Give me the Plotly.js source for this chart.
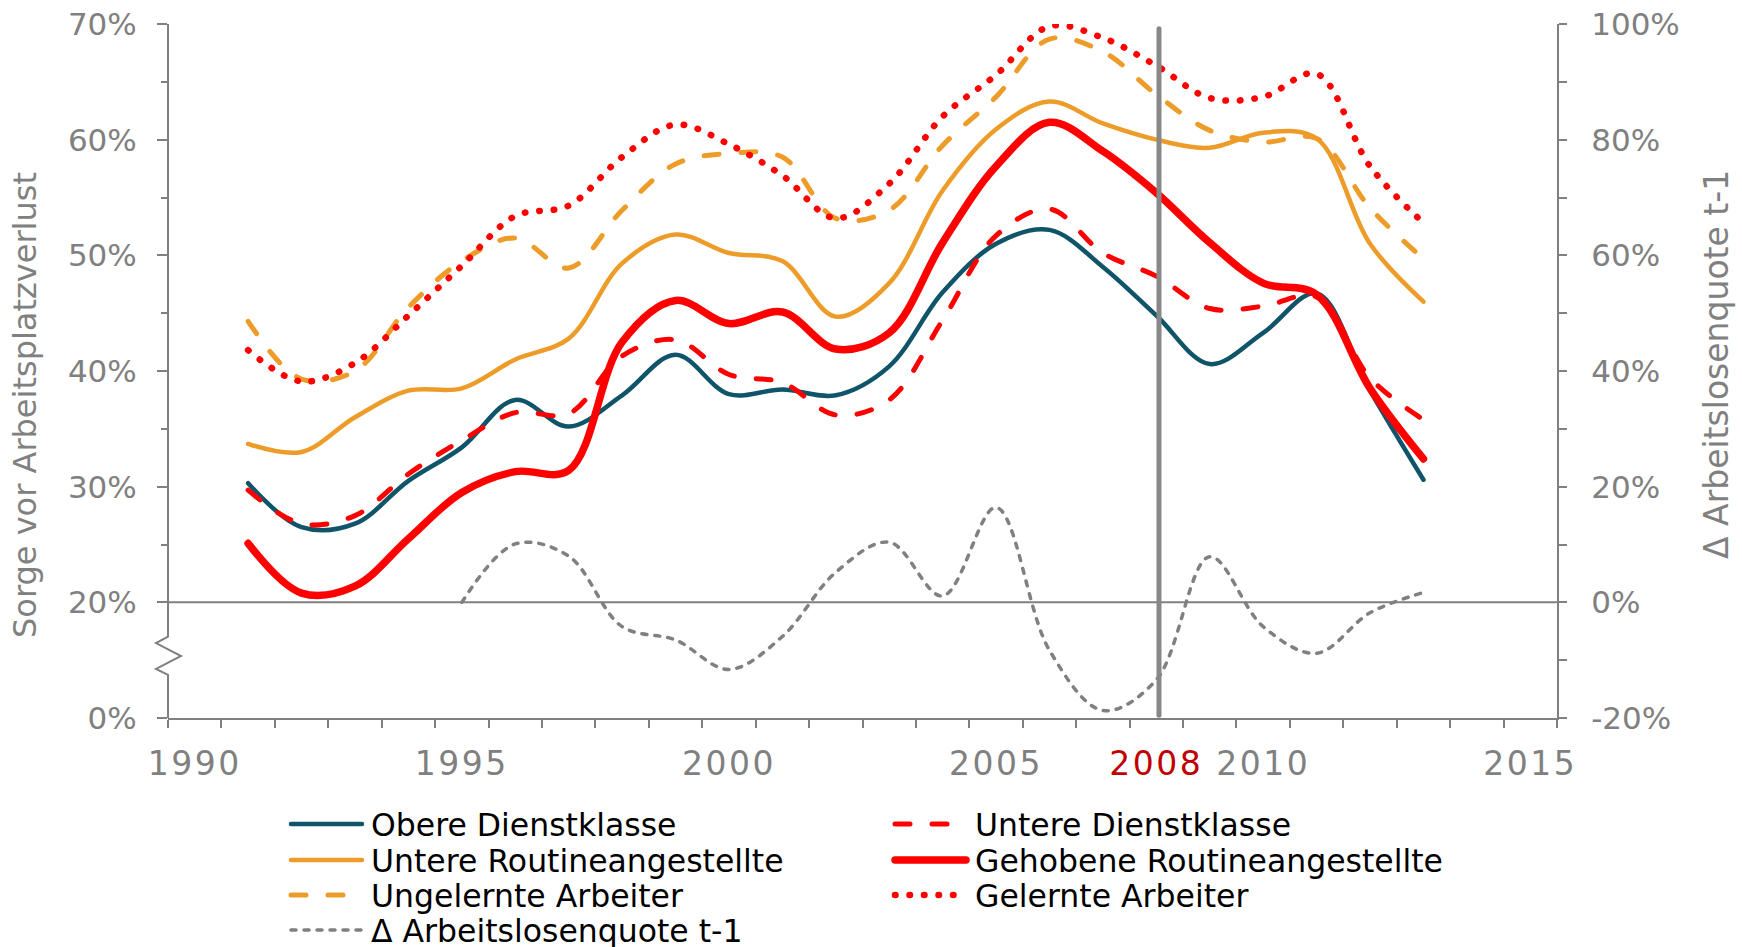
<!DOCTYPE html>
<html>
<head>
<meta charset="utf-8">
<script src="https://cdn.plot.ly/plotly-3.0.1.min.js"></script>
<style>
html,body{margin:0;padding:0;background:#fff;}
#chart{width:1742px;height:947px;}
path.js-line{stroke-linecap:round !important;stroke-linejoin:round !important;}
.shapelayer path{stroke-linecap:round;}
.xtick text{letter-spacing:2.5px;}
</style>
</head>
<body>
<div id="chart"></div>
<script>
// ---- data ----
const years = [1991,1992,1993,1994,1995,1996,1997,1998,1999,2000,2001,2002,2003,2004,2005,2006,2007,2008,2009,2010,2011,2012,2013];
const obereDienstklasse        = [30.3,26.5,26.8,30.5,33.4,37.5,35.2,37.9,41.4,38.0,38.4,37.9,40.4,46.8,51.0,52.2,49.0,44.8,40.6,43.3,46.7,38.3,30.6];
const untereDienstklasse       = [29.7,26.8,27.5,31.1,34.0,36.4,36.3,41.3,42.7,39.7,39.0,36.2,37.5,44.4,51.7,54.0,50.2,48.2,45.4,45.6,46.4,39.4,35.8];
const untereRoutineangestellte = [33.7,33.0,36.0,38.3,38.5,41.0,42.8,49.3,51.8,50.2,49.5,44.7,47.6,55.6,60.9,63.3,61.4,60.0,59.3,60.6,60.1,51.0,46.0];
const gehobeneRoutineangest    = [25.1,20.8,21.4,25.5,29.5,31.3,31.4,42.5,46.1,44.1,45.1,41.9,43.3,51.1,57.7,61.5,59.0,55.4,51.1,47.6,46.6,38.5,32.4];
const ungelernteArbeiter       = [44.3,39.3,40.0,45.5,49.5,51.5,48.9,53.9,57.9,58.8,58.5,53.2,53.9,59.5,63.7,68.7,67.6,63.9,60.8,59.8,60.1,54.1,49.7];
const gelernteArbeiter         = [41.8,39.1,40.7,44.8,49.1,53.4,54.3,58.5,61.3,59.6,56.9,53.2,56.2,62.0,65.6,69.8,68.8,66.4,63.6,63.7,65.7,57.7,52.8];
const deltaYears = [1995,1996,1997,1998,1999,2000,2001,2002,2003,2004,2005,2006,2007,2008,2009,2010,2011,2012,2013];
const deltaArbeitslosenquote = [0.0,10.1,8.0,-4.2,-6.5,-11.6,-5.9,5.2,10.4,1.1,16.4,-8.3,-18.7,-13.4,7.9,-4.2,-8.8,-1.8,1.7];

const xTickVals = [1990,1995,2000,2005,2008,2010,2015];
const xTickText = ['1990','1995','2000','2005','<span style="color:#C00000">2008</span>','2010','2015'];
const yTickVals = [10,20,30,40,50,60,70];
const yTickText = ['0%','20%','30%','40%','50%','60%','70%'];
const y2TickVals = [-20,0,20,40,60,80,100];
const y2TickText = ['-20%','0%','20%','40%','60%','80%','100%'];
const markerYear = 2008.05;

const names = ['Obere Dienstklasse','Untere Dienstklasse','Untere Routineangestellte','Gehobene Routineangestellte','Ungelernte Arbeiter','Gelernte Arbeiter','\u0394 Arbeitslosenquote t-1'];

// ---- styles ----
const TEAL = '#0F5468', ORANGE = '#ED9C2A', RED = '#FF0000', GREY = '#808080';
const styles = [
  {color:TEAL,   width:4.5, dash:'solid'},
  {color:RED,    width:5,   dash:'15px,22px'},
  {color:ORANGE, width:4.5, dash:'solid'},
  {color:RED,    width:7.5, dash:'solid'},
  {color:ORANGE, width:5,   dash:'15px,22px'},
  {color:RED,    width:6.5, dash:'0.5px,14px'},
  {color:GREY,   width:3.5, dash:'5px,8px'}
];
const seriesY = [obereDienstklasse,untereDienstklasse,untereRoutineangestellte,gehobeneRoutineangest,ungelernteArbeiter,gelernteArbeiter,deltaArbeitslosenquote];

const traces = seriesY.map((ys,i)=>({
  type:'scatter', mode:'lines', name:names[i],
  x: i===6 ? deltaYears : years, y: ys,
  yaxis: i===6 ? 'y2' : 'y',
  line:{color:styles[i].color, width:styles[i].width, dash:styles[i].dash, shape:'spline', smoothing:1},
  showlegend:false, hoverinfo:'skip'
}));

// ---- layout geometry ----
const W = 1742, H = 947;
const M = {l:168, r:185, t:24, b:229};
const PW = W - M.l - M.r, PH = H - M.t - M.b;
const px2paperX = px => (px - M.l)/PW;
const py2paperY = py => (H - M.b - py)/PH;
const FONT = 'DejaVu Sans';

const shapes = [];
const annotations = [];

// horizontal reference line (right axis 0 / left 20%)
shapes.push({type:'line', xref:'paper', yref:'y2', x0:0, x1:1, y0:0, y1:0, line:{color:GREY, width:2}, layer:'below'});

// left axis line with break zigzag (values on left axis)
const zx = [0,-12,13,-12,0].map(v=>v/PW);
const zy = [17.03,16.48,15.36,14.24,13.72];
let p = `M0,${70} L0,${zy[0]}`;
for(let k=1;k<zx.length;k++) p += ` L${zx[k]},${zy[k]}`;
p += ` L0,10`;
shapes.push({type:'path', xref:'paper', yref:'y', path:p, line:{color:GREY, width:2}, layer:'above'});

// 2008 marker line
shapes.push({type:'line', xref:'x', yref:'paper', x0:markerYear, x1:markerYear, y0:0.004, y1:0.993, line:{color:'#888888', width:5}, layer:'above'});

// legend (manual grid, two columns)
const legCols = [291, 895], legRows = [824, 860, 895, 930], legLen = 71, legTextGap = 78;
names.forEach((n,i)=>{
  const c = i%2, r = Math.floor(i/2);
  const x0 = legCols[c], y = legRows[r];
  shapes.push({type:'line', xref:'paper', yref:'paper',
    x0:px2paperX(x0), x1:px2paperX(x0+legLen), y0:py2paperY(y), y1:py2paperY(y),
    line:{color:styles[i].color, width:styles[i].width, dash:styles[i].dash}, layer:'above'});
  annotations.push({xref:'paper', yref:'paper', x:px2paperX(x0+legTextGap), y:py2paperY(y+1),
    xanchor:'left', yanchor:'middle', showarrow:false, text:n,
    font:{family:FONT, size:31.5, color:'#000000'}});
});

// axis titles
annotations.push({xref:'paper', yref:'paper', x:px2paperX(25), y:py2paperY(405), xanchor:'center', yanchor:'middle',
  textangle:-90, showarrow:false, text:'Sorge vor Arbeitsplatzverlust', font:{family:FONT, size:32, color:GREY}});
annotations.push({xref:'paper', yref:'paper', x:px2paperX(1716), y:py2paperY(364), xanchor:'center', yanchor:'middle',
  textangle:-90, showarrow:false, text:'\u0394 Arbeitslosenquote t-1', font:{family:FONT, size:33, color:GREY}});

const tickFont = {family:FONT, size:31, color:GREY};

const layout = {
  width:W, height:H, margin:M, paper_bgcolor:'#ffffff', plot_bgcolor:'rgba(0,0,0,0)',
  showlegend:false,
  xaxis:{range:[1989.5,2015.5], tickmode:'array', tickvals:xTickVals, ticktext:xTickText,
    ticks:'', ticklabelstandoff:15, tickfont:{family:FONT, size:33, color:GREY},
    minor:{tickmode:'linear', tick0:1989.5, dtick:1, ticks:'outside', ticklen:8, tickwidth:2, tickcolor:GREY, showgrid:false},
    showline:true, linecolor:GREY, linewidth:2, showgrid:false, zeroline:false, fixedrange:true},
  yaxis:{range:[10,70], tickmode:'array', tickvals:yTickVals, ticktext:yTickText,
    ticks:'outside', ticklen:10, tickwidth:2, tickcolor:GREY, ticklabelstandoff:14, tickfont:tickFont,
    minor:{tickmode:'array', tickvals:[25,35,45,55,65], ticks:'outside', ticklen:6, tickwidth:2, tickcolor:GREY, showgrid:false},
    showline:false, showgrid:false, zeroline:false, fixedrange:true},
  yaxis2:{range:[-20,100], overlaying:'y', side:'right', anchor:'x', tickmode:'array', tickvals:y2TickVals, ticktext:y2TickText,
    ticks:'outside', ticklen:8, tickwidth:2, tickcolor:GREY, ticklabelstandoff:18, tickfont:tickFont,
    minor:{tickmode:'array', tickvals:[-10,10,30,50,70,90], ticks:'outside', ticklen:8, tickwidth:2, tickcolor:GREY, showgrid:false},
    showline:true, linecolor:GREY, linewidth:2, showgrid:false, zeroline:false, fixedrange:true},
  shapes:shapes, annotations:annotations
};

Plotly.newPlot('chart', traces, layout, {displayModeBar:false, staticPlot:true});
</script>
</body>
</html>
